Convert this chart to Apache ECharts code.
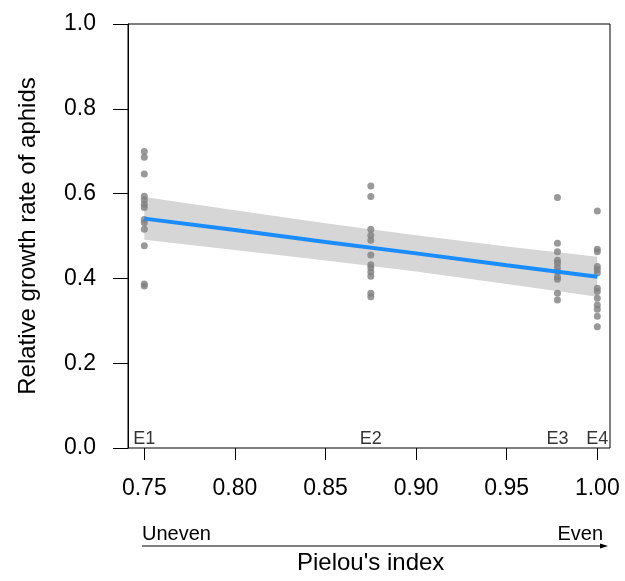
<!DOCTYPE html>
<html>
<head>
<meta charset="utf-8">
<script src="https://cdn.jsdelivr.net/npm/echarts@6/dist/echarts.min.js"></script>
<style>
html,body{margin:0;padding:0;background:#fff;}
#main{width:625px;height:581px;}
</style>
</head>
<body>
<div id="main"></div>
<script>
// Pielou's index of each treatment
var groups = ['E1', 'E2', 'E3', 'E4'];
var groupX = [0.75, 0.875, 0.978, 1.0];

// relative growth rate of aphids, per treatment
var rgrE1 = [0.699, 0.686, 0.646, 0.594, 0.585, 0.575, 0.567, 0.539, 0.531, 0.516, 0.477, 0.387, 0.382];
var rgrE2 = [0.618, 0.593, 0.516, 0.502, 0.490, 0.455, 0.432, 0.425, 0.415, 0.405, 0.365, 0.357];
var rgrE3 = [0.591, 0.483, 0.463, 0.443, 0.436, 0.426, 0.416, 0.404, 0.398, 0.365, 0.349];
var rgrE4 = [0.559, 0.469, 0.463, 0.428, 0.421, 0.413, 0.377, 0.369, 0.353, 0.337, 0.327, 0.311, 0.286];

// fitted line and confidence band
var fitX = [0.75, 0.80, 0.85, 0.90, 0.95, 1.00];
var fitY = [0.541, 0.514, 0.486, 0.459, 0.431, 0.404];
var bandLow = [0.491, 0.467, 0.442, 0.416, 0.387, 0.357];
var bandHigh = [0.592, 0.561, 0.530, 0.502, 0.475, 0.451];

var xTicks = [0.75, 0.80, 0.85, 0.90, 0.95, 1.00];

var rgrAll = [rgrE1, rgrE2, rgrE3, rgrE4];
var points = [];
rgrAll.forEach(function (arr, i) {
    arr.forEach(function (v) { points.push([groupX[i], v]); });
});

var chart = echarts.init(document.getElementById('main'));
var font = 'Liberation Sans, Arial, sans-serif';

var option = {
    backgroundColor: '#fff',
    animation: false,
    grid: {
        left: 128, right: 15, top: 24, bottom: 133,
        show: true, borderColor: '#000', borderWidth: 1
    },
    xAxis: {
        type: 'value',
        min: 0.741, max: 1.007,
        offset: 3,
        splitLine: {show: false},
        axisLine: {show: false},
        axisTick: {show: true, length: 12, lineStyle: {color: '#000'}, customValues: xTicks},
        axisLabel: {
            customValues: xTicks,
            color: '#000', fontSize: 23, fontFamily: font, margin: 26,
            formatter: function (v) { return v.toFixed(2); }
        }
    },
    yAxis: {
        type: 'value',
        min: 0, max: 1, interval: 0.2,
        splitLine: {show: false},
        axisLine: {show: true, lineStyle: {color: '#000'}},
        axisTick: {show: true, length: 15, lineStyle: {color: '#000'}},
        axisLabel: {
            color: '#000', fontSize: 23, fontFamily: font, margin: 32,
            formatter: function (v) { return v.toFixed(1); }
        },
        name: 'Relative growth rate of aphids',
        nameLocation: 'middle',
        nameGap: 88,
        nameTextStyle: {color: '#000', fontSize: 24, fontFamily: font}
    },
    graphic: [
        {
            type: 'text', left: 142, top: 524,
            style: {text: 'Uneven', fill: '#000', font: '20px ' + font}
        },
        {
            type: 'text', right: 22, top: 524,
            style: {text: 'Even', fill: '#000', font: '20px ' + font}
        },
        {
            type: 'line',
            shape: {x1: 142, y1: 546, x2: 602, y2: 546},
            style: {stroke: '#000', lineWidth: 1}
        },
        {
            type: 'polygon',
            shape: {points: [[608, 546], [600, 543.5], [600, 548.5]]},
            style: {fill: '#000'}
        },
        {
            type: 'text', left: 297, top: 551,
            style: {text: "Pielou's index", fill: '#000', font: '24px ' + font}
        }
    ],
    series: [
        {
            type: 'custom',
            silent: true,
            z: 1,
            data: [0],
            renderItem: function (params, api) {
                var pts = [];
                for (var i = 0; i < fitX.length; i++) pts.push(api.coord([fitX[i], bandHigh[i]]));
                for (var j = fitX.length - 1; j >= 0; j--) pts.push(api.coord([fitX[j], bandLow[j]]));
                return {
                    type: 'polygon',
                    shape: {points: pts},
                    style: {fill: '#d6d6d6', stroke: 'none'}
                };
            }
        },
        {
            type: 'scatter',
            z: 2,
            symbol: 'circle',
            symbolSize: 7,
            itemStyle: {color: '#808080'},
            data: points
        },
        {
            type: 'line',
            z: 3,
            symbol: 'none',
            lineStyle: {color: '#1a8cff', width: 4},
            data: fitX.map(function (x, i) { return [x, fitY[i]]; })
        },
        {
            type: 'scatter',
            z: 4,
            symbolSize: 0,
            silent: true,
            label: {
                show: true, position: 'top', distance: 0,
                color: '#000', fontSize: 18, fontFamily: font,
                formatter: function (p) { return p.value[2]; }
            },
            data: groups.map(function (g, i) { return [groupX[i], 0, g]; })
        }
    ]
};
chart.setOption(option);
</script>
</body>
</html>
